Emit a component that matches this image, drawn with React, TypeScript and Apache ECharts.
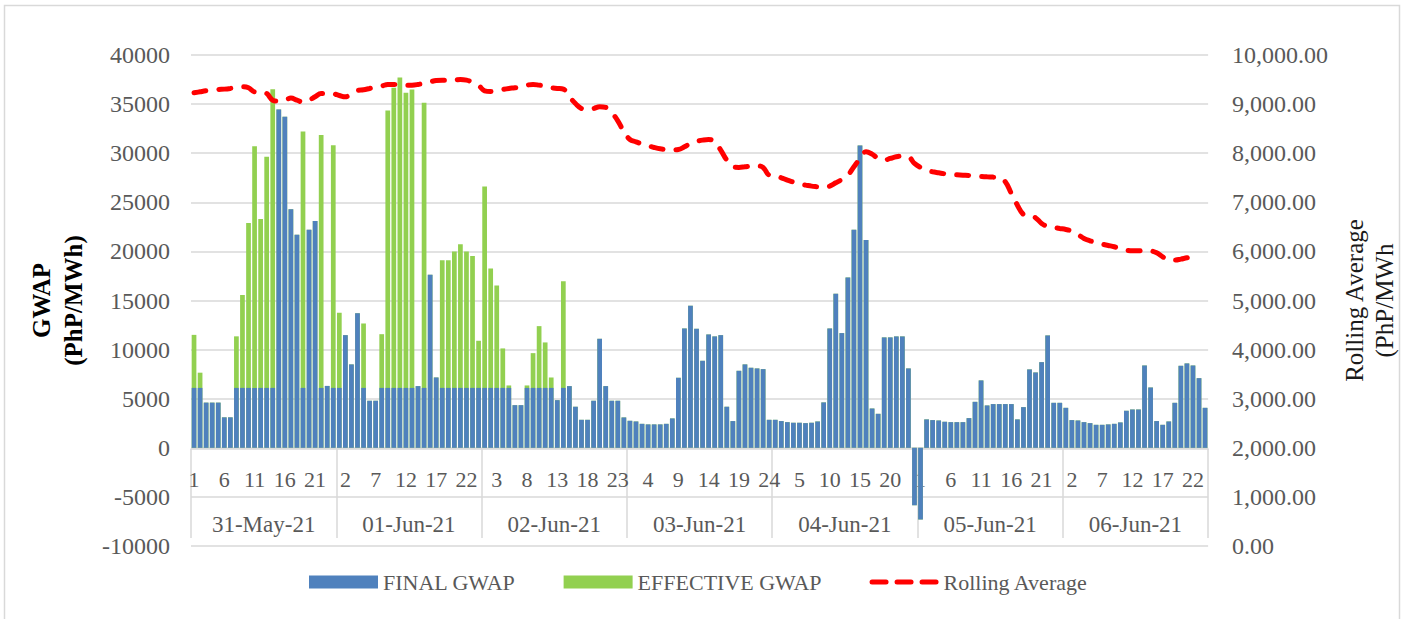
import React, { useEffect, useRef } from "react";
import * as echarts from "echarts";

const dates = ["31-May-21", "01-Jun-21", "02-Jun-21", "03-Jun-21", "04-Jun-21", "05-Jun-21", "06-Jun-21"];
const hours = ["1", "2", "3", "4", "5", "6", "7", "8", "9", "10", "11", "12", "13", "14", "15", "16", "17", "18", "19", "20", "21", "22", "23", "24"];

const finalD1 = [6100, 6100, 4600, 4600, 4600, 3100, 3100, 6100, 6100, 6100, 6100, 6100, 6100, 6100, 34450, 33700, 24300, 21700, 6100, 22200, 23100, 6100, 6300, 6100];
const finalD2 = [6100, 11470, 8490, 13710, 6100, 4790, 4790, 6100, 6100, 6100, 6100, 6100, 6100, 6280, 6100, 17620, 7160, 6100, 6100, 6100, 6100, 6100, 6100, 6100];
const finalD3 = [6100, 6100, 6100, 6100, 6100, 4340, 4340, 6100, 6100, 6100, 6100, 6100, 4850, 6100, 6280, 4180, 2850, 2850, 4790, 11100, 6280, 4790, 4790, 3090];
const finalD4 = [2750, 2680, 2440, 2380, 2380, 2380, 2440, 2990, 7130, 12150, 14460, 12120, 8860, 11540, 11340, 11470, 4180, 2720, 7840, 8490, 8150, 8080, 8010, 2850];
const finalD5 = [2850, 2720, 2610, 2550, 2550, 2510, 2550, 2680, 4620, 12150, 15680, 11680, 17350, 22200, 30790, 21150, 4000, 3460, 11240, 11240, 11340, 11340, 8080, -5850];
const finalD6 = [-7300, 2890, 2820, 2780, 2650, 2610, 2610, 2610, 3020, 4680, 6860, 4310, 4450, 4450, 4450, 4450, 2890, 4140, 7980, 7670, 8720, 11440, 4580, 4580];
const finalD7 = [4070, 2820, 2780, 2610, 2510, 2340, 2340, 2380, 2440, 2580, 3770, 3900, 3900, 8380, 6140, 2720, 2340, 2680, 4580, 8350, 8590, 8380, 7090, 4070];

const effD1 = [11500, 7650, 4600, 4600, 4600, 3100, 3100, 11350, 15550, 22900, 30700, 23300, 29650, 36500, 34450, 33700, 24300, 21700, 32200, 22200, 23100, 31850, 6300, 30800];
const effD2 = [13750, 11470, 8490, 13710, 12660, 4790, 4790, 11570, 34350, 36660, 37700, 36150, 36490, 6280, 35130, 17620, 7160, 19110, 19110, 19990, 20740, 19990, 19520, 10900];
const effD3 = [26600, 18260, 16530, 10120, 6350, 4340, 4340, 6350, 9640, 12390, 10730, 7160, 4850, 16970, 6280, 4180, 2850, 2850, 4790, 11100, 6280, 4790, 4790, 3090];
const effD4 = [2750, 2680, 2440, 2380, 2380, 2380, 2440, 2990, 7130, 12150, 14460, 12120, 8860, 11540, 11340, 11470, 4180, 2720, 7840, 8490, 8150, 8080, 8010, 2850];
const effD5 = [2850, 2720, 2610, 2550, 2550, 2510, 2550, 2680, 4620, 12150, 15680, 11680, 17350, 22200, 30790, 21150, 4000, 3460, 11240, 11240, 11340, 11340, 8080, -5850];
const effD6 = [-7300, 2890, 2820, 2780, 2650, 2610, 2610, 2610, 3020, 4680, 6860, 4310, 4450, 4450, 4450, 4450, 2890, 4140, 7980, 7670, 8720, 11440, 4580, 4580];
const effD7 = [4070, 2820, 2780, 2610, 2510, 2340, 2340, 2380, 2440, 2580, 3770, 3900, 3900, 8380, 6140, 2720, 2340, 2680, 4580, 8350, 8590, 8380, 7090, 4070];

const rollD1 = [9230, 9251, 9271, 9285, 9298, 9305, 9319, 9339, 9352, 9332, 9251, 9251, 9217, 9080, 9060, 9080, 9122, 9080, 9040, 9080, 9149, 9217, 9217, 9210];
const rollD2 = [9176, 9149, 9217, 9278, 9291, 9319, 9346, 9366, 9400, 9400, 9393, 9386, 9386, 9400, 9427, 9454, 9481, 9488, 9488, 9488, 9502, 9488, 9447, 9380];
const rollD3 = [9271, 9257, 9271, 9298, 9319, 9332, 9352, 9386, 9400, 9386, 9366, 9332, 9319, 9305, 9149, 9013, 8911, 8891, 8911, 8945, 8932, 8823, 8660, 8436];
const rollD4 = [8280, 8232, 8185, 8151, 8117, 8090, 8076, 8069, 8076, 8130, 8198, 8239, 8266, 8280, 8232, 8063, 7859, 7723, 7710, 7723, 7737, 7743, 7710, 7553];
const rollD5 = [7533, 7499, 7451, 7411, 7370, 7350, 7329, 7316, 7302, 7329, 7397, 7465, 7553, 7723, 7893, 8029, 7981, 7893, 7859, 7893, 7927, 7940, 7927, 7791];
const rollD6 = [7710, 7655, 7621, 7601, 7581, 7567, 7560, 7553, 7547, 7533, 7526, 7519, 7513, 7506, 7418, 7180, 6942, 6753, 6719, 6685, 6569, 6508, 6488, 6467];
const rollD7 = [6447, 6413, 6345, 6264, 6216, 6182, 6148, 6121, 6094, 6053, 6026, 6012, 6012, 6026, 6012, 5971, 5890, 5822, 5822, 5843, 5870, 5890, 5904, null];

const finalGwap = [...finalD1, ...finalD2, ...finalD3, ...finalD4, ...finalD5, ...finalD6, ...finalD7];
const effectiveGwap = [...effD1, ...effD2, ...effD3, ...effD4, ...effD5, ...effD6, ...effD7];
const rollingAverage = [...rollD1, ...rollD2, ...rollD3, ...rollD4, ...rollD5, ...rollD6, ...rollD7];
const categories = dates.flatMap((d) => hours.map((h) => `${d}|${h}`));

const FONT = "Liberation Serif";
const GRAY = "#595959";
const GRID = "#d9d9d9";

const dashIcon =
  "path://M2.5,0h14a2.5,2.5 0 0 1 0,5h-14a2.5,2.5 0 0 1 0,-5z" +
  "M27.5,0h14a2.5,2.5 0 0 1 0,5h-14a2.5,2.5 0 0 1 0,-5z" +
  "M52.5,0h14a2.5,2.5 0 0 1 0,5h-14a2.5,2.5 0 0 1 0,-5z";

export default function App() {
  const ref = useRef<HTMLDivElement>(null);
  useEffect(() => {
    if (!ref.current) return;
    const chart = echarts.init(ref.current, undefined, { renderer: "svg" });
    chart.setOption({
      animation: false,
      backgroundColor: "#ffffff",
      textStyle: { fontFamily: FONT },
      grid: { left: 191, right: 181, top: 55, bottom: 73, containLabel: false },
      legend: {
        left: 304,
        top: 566,
        itemWidth: 69,
        itemHeight: 13,
        itemGap: 48,
        textStyle: { fontFamily: FONT, fontSize: 22, color: GRAY },
        data: [
          { name: "FINAL GWAP", icon: "rect" },
          { name: "EFFECTIVE GWAP", icon: "rect" },
          { name: "Rolling Average", icon: dashIcon, itemStyle: { color: "#ff0000" } },
        ],
      },
      graphic: [
        {
          type: "rect",
          silent: true,
          z: -10,
          shape: { x: 4.5, y: 5.5, width: 1395, height: 630 },
          style: { fill: "none", stroke: GRID, lineWidth: 1.5 },
        },
      ],
      xAxis: [
        {
          type: "category",
          data: categories,
          position: "bottom",
          offset: -97,
          boundaryGap: true,
          axisLine: { onZero: false, lineStyle: { color: GRID, width: 1.5 } },
          axisTick: { show: false },
          splitLine: { show: false },
          axisLabel: {
            interval: 4,
            hideOverlap: false,
            margin: 19,
            fontSize: 22,
            color: GRAY,
            fontFamily: FONT,
            formatter: (v: string) => v.split("|")[1],
          },
        },
        {
          type: "category",
          data: dates,
          position: "bottom",
          offset: -8,
          boundaryGap: true,
          axisLine: { show: false, onZero: false },
          axisTick: { show: true, inside: true, length: 89, interval: 0, lineStyle: { color: GRID, width: 1.5 } },
          splitLine: { show: false },
          axisLabel: { inside: true, margin: 2, fontSize: 23, color: GRAY, fontFamily: FONT, interval: 0 },
        },
      ],
      yAxis: [
        {
          type: "value",
          min: -10000,
          max: 40000,
          interval: 5000,
          position: "left",
          axisLine: { show: false },
          axisTick: { show: false },
          splitLine: { show: true, lineStyle: { color: GRID, width: 1.5 } },
          axisLabel: { margin: 21, fontSize: 24, color: GRAY, fontFamily: FONT, formatter: (v: number) => String(v) },
          name: "GWAP\n(PhP/MWh)",
          nameLocation: "middle",
          nameRotate: 90,
          nameGap: 102,
          nameTextStyle: { fontFamily: FONT, fontSize: 25, fontWeight: "bold", color: "#000000", lineHeight: 32 },
        },
        {
          type: "value",
          min: 0,
          max: 10000,
          interval: 1000,
          position: "right",
          axisLine: { show: false },
          axisTick: { show: false },
          splitLine: { show: false },
          axisLabel: {
            margin: 24,
            fontSize: 24,
            color: GRAY,
            fontFamily: FONT,
            formatter: (v: number) => v.toLocaleString("en-US", { minimumFractionDigits: 2, maximumFractionDigits: 2 }),
          },
          name: "Rolling Average\n(PhP/MWh",
          nameLocation: "middle",
          nameRotate: 90,
          nameGap: 112,
          nameTextStyle: { fontFamily: FONT, fontSize: 25, color: "#1a1a1a", lineHeight: 30 },
        },
      ],
      series: [
        {
          name: "EFFECTIVE GWAP",
          type: "bar",
          xAxisIndex: 0,
          yAxisIndex: 0,
          data: effectiveGwap,
          barWidth: "78%",
          barGap: "-100%",
          itemStyle: { color: "#92d050" },
          z: 2,
        },
        {
          name: "FINAL GWAP",
          type: "bar",
          xAxisIndex: 0,
          yAxisIndex: 0,
          data: finalGwap,
          barWidth: "78%",
          barGap: "-100%",
          itemStyle: { color: "#4f81bd" },
          z: 3,
        },
        {
          name: "Rolling Average",
          type: "line",
          xAxisIndex: 0,
          yAxisIndex: 1,
          data: rollingAverage,
          smooth: 0.4,
          symbol: "none",
          showSymbol: false,
          connectNulls: false,
          lineStyle: { color: "#ff0000", width: 5, type: [12, 13], cap: "round" },
          itemStyle: { color: "#ff0000" },
          z: 5,
        },
      ],
    });
    return () => chart.dispose();
  }, []);
  return (
    <div
      ref={ref}
      style={{ position: "fixed", left: 0, top: 0, width: 1407, height: 619, background: "#ffffff" }}
    />
  );
}
